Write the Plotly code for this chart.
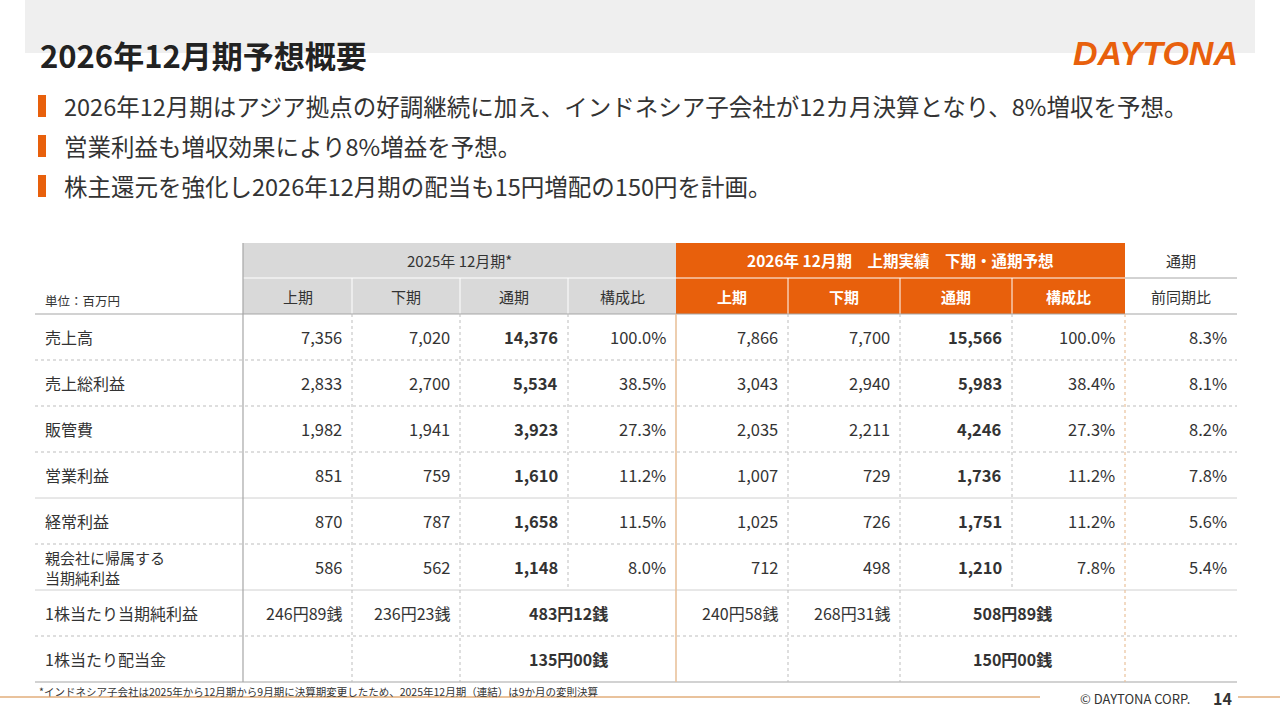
import plotly.graph_objects as go

# ---- data ----
title = "2026年12月期予想概要"
bullets = [
    "2026年12月期はアジア拠点の好調継続に加え、インドネシア子会社が12カ月決算となり、8%増収を予想。",
    "営業利益も増収効果により8%増益を予想。",
    "株主還元を強化し2026年12月期の配当も15円増配の150円を計画。",
]
row_labels = ["売上高", "売上総利益", "販管費", "営業利益", "経常利益",
              "親会社に帰属する<br>当期純利益", "1株当たり当期純利益", "1株当たり配当金"]
sub_cols = ["上期", "下期", "通期", "構成比"]

fy25_h1 = [7356, 2833, 1982, 851, 870, 586]
fy25_h2 = [7020, 2700, 1941, 759, 787, 562]
fy25_full = [14376, 5534, 3923, 1610, 1658, 1148]
fy25_ratio = [100.0, 38.5, 27.3, 11.2, 11.5, 8.0]
fy26_h1 = [7866, 3043, 2035, 1007, 1025, 712]
fy26_h2 = [7700, 2940, 2211, 729, 726, 498]
fy26_full = [15566, 5983, 4246, 1736, 1751, 1210]
fy26_ratio = [100.0, 38.4, 27.3, 11.2, 11.2, 7.8]
yoy = [8.3, 8.1, 8.2, 7.8, 5.6, 5.4]

eps_25 = ["246円89銭", "236円23銭", "483円12銭"]
eps_26 = ["240円58銭", "268円31銭", "508円89銭"]
dps_25 = "135円00銭"
dps_26 = "150円00銭"

footnote = "*インドネシア子会社は2025年から12月期から9月期に決算期変更したため、2025年12月期（連結）は9か月の変則決算"

# ---- layout constants ----
FONT = "Noto Sans CJK JP"
TXT = "#333333"
ORANGE = "#E8600C"
TAN = "#E9C29C"
GRAY_HDR = "#D9D9D9"
LINE = "#A6A6A6"
DOT = "#BDBDBD"

col_x = [35, 243, 352, 460, 568, 676, 788, 900, 1012, 1125, 1237]
hdr_y = [243, 278, 314]
row_h = 46
row_y = [314 + i * row_h for i in range(len(row_labels) + 1)]

shapes = []
ann = []


def text(x, y, s, size=15, color=TXT, bold=False, xanchor="center", **kw):
    ann.append(dict(x=x, y=y, xref="x", yref="y", text=s, showarrow=False,
                    xanchor=xanchor, yanchor="middle",
                    font=dict(family=FONT, size=size, color=color,
                              weight="bold" if bold else "normal"), **kw))


def rect(x0, y0, x1, y1, fill, lw=0, lc=None):
    shapes.append(dict(type="rect", xref="x", yref="y", x0=x0, y0=y0, x1=x1, y1=y1,
                       fillcolor=fill, line=dict(width=lw, color=lc or fill), layer="below"))


def line(x0, y0, x1, y1, color, width=1, dash="solid"):
    shapes.append(dict(type="line", xref="x", yref="y", x0=x0, y0=y0, x1=x1, y1=y1,
                       line=dict(color=color, width=width, dash=dash)))


# top band, title, logo
rect(25, 0, 1255, 53, "#EFEFEF")
text(38, 54, title, size=31, color="#222222", bold=True, xanchor="left")
ann.append(dict(x=1240, y=53, xref="x", yref="y", text="DAYTONA", showarrow=False,
                xanchor="right", yanchor="middle",
                font=dict(family="Liberation Sans", size=34, color=ORANGE,
                          weight="bold", style="italic")))

# bullets
for i, b in enumerate(bullets):
    yc = 106 + i * 40
    rect(38, yc - 11, 46, yc + 11, ORANGE)
    text(62, yc, b, size=23.5, xanchor="left")

# header row 1
rect(col_x[1], hdr_y[0], col_x[5], hdr_y[2], GRAY_HDR)
rect(col_x[5], hdr_y[0], col_x[9], hdr_y[2], ORANGE)
line(col_x[1], hdr_y[1], col_x[9], hdr_y[1], "#FFFFFF", 1)
line(col_x[9], hdr_y[1], col_x[10], hdr_y[1], LINE, 1)
text((col_x[1] + col_x[5]) / 2, 260, "2025年 12月期*", size=15)
text((col_x[5] + col_x[9]) / 2, 260, "2026年 12月期　上期実績　下期・通期予想",
     size=15.5, color="#FFFFFF", bold=True)
text((col_x[9] + col_x[10]) / 2, 260, "通期", size=15)
text((col_x[9] + col_x[10]) / 2, 296, "前同期比", size=15)
text(43, 300, "単位：百万円", size=12.5, xanchor="left")

# header row 2
for j in range(8):
    x0, x1 = col_x[1 + j], col_x[2 + j]
    orange = j >= 4
    text((x0 + x1) / 2, 296, sub_cols[j % 4], size=15,
         color="#FFFFFF" if orange else TXT, bold=orange)
    if j not in (0, 4):
        line(x0, hdr_y[1], x0, hdr_y[2], "#FFFFFF", 1)

# grid
line(col_x[0], row_y[0], col_x[10], row_y[0], LINE, 1.2)
line(col_x[0], row_y[-1], col_x[10], row_y[-1], LINE, 1.2)
solid_rows = {4, 6}
for i in range(1, len(row_labels)):
    if i in solid_rows:
        line(col_x[0], row_y[i], col_x[10], row_y[i], "#D0D0D0", 1)
    else:
        line(col_x[0], row_y[i], col_x[10], row_y[i], DOT, 1, "dot")
line(col_x[1], hdr_y[0], col_x[1], row_y[-1], LINE, 1.2)
for k in (2, 3, 6, 7):
    line(col_x[k], row_y[0], col_x[k], row_y[-1], DOT, 1, "dot")
for k in (4, 8):
    line(col_x[k], row_y[0], col_x[k], row_y[6], DOT, 1, "dot")
line(col_x[5], row_y[0], col_x[5], row_y[-1], TAN, 1.6)
line(col_x[9], row_y[0], col_x[9], row_y[-1], TAN, 1.2, "dot")

# body
fmt_n = lambda v: f"{v:,}"
fmt_p = lambda v: f"{v:.1f}%"
cols = [(fy25_h1, fmt_n, False), (fy25_h2, fmt_n, False), (fy25_full, fmt_n, True),
        (fy25_ratio, fmt_p, False), (fy26_h1, fmt_n, False), (fy26_h2, fmt_n, False),
        (fy26_full, fmt_n, True), (fy26_ratio, fmt_p, False), (yoy, fmt_p, False)]

for i, lab in enumerate(row_labels):
    yc = (row_y[i] + row_y[i + 1]) / 2
    text(43, yc, lab, size=15 if i == 5 else 16, xanchor="left", align="left")
for i in range(len(fy25_h1)):
    yc = (row_y[i] + row_y[i + 1]) / 2
    for j, (vals, f, bold) in enumerate(cols):
        text(col_x[2 + j] - 8, yc, f(vals[i]), size=16.5, bold=bold, xanchor="right")

# per-share rows
y_eps = (row_y[6] + row_y[7]) / 2
y_dps = (row_y[7] + row_y[8]) / 2
for base, eps, dps in ((1, eps_25, dps_25), (5, eps_26, dps_26)):
    text(col_x[base + 1] - 8, y_eps, eps[0], size=16, xanchor="right")
    text(col_x[base + 2] - 8, y_eps, eps[1], size=16, xanchor="right")
    mid = (col_x[base + 2] + col_x[base + 4]) / 2
    text(mid, y_eps, eps[2], size=16, bold=True)
    text(mid, y_dps, dps, size=16, bold=True)

# footer
text(37, 691, footnote, size=10.5, xanchor="left")
line(0, 697, 1040, 697, TAN, 2)
line(1238, 697, 1280, 697, TAN, 2)
text(1135, 698, "© DAYTONA CORP.", size=13)
text(1222, 698, "14", size=16, bold=True)

fig = go.Figure(go.Scatter(x=[0, 1280], y=[0, 720], mode="markers",
                           marker=dict(opacity=0), hoverinfo="skip", showlegend=False))
fig.update_layout(
    width=1280, height=720, margin=dict(l=0, r=0, t=0, b=0),
    paper_bgcolor="white", plot_bgcolor="white",
    xaxis=dict(range=[0, 1280], visible=False, fixedrange=True),
    yaxis=dict(range=[720, 0], visible=False, fixedrange=True),
    shapes=shapes, annotations=ann, font=dict(family=FONT),
)
fig.write_html("out.html", config={"displayModeBar": False},
               post_script="document.body.style.margin='0';document.body.style.overflow='hidden';")
